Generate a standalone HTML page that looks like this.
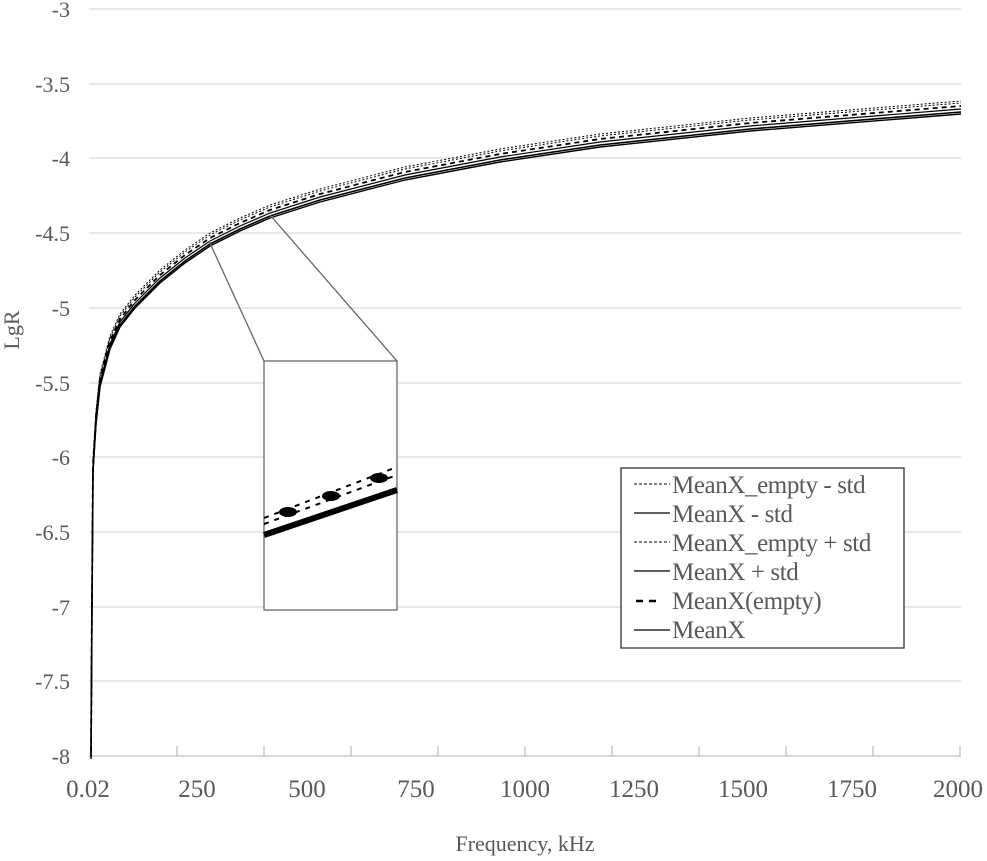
<!DOCTYPE html>
<html><head><meta charset="utf-8"><style>
body{margin:0;background:#fff;}
svg{display:block;font-family:"Liberation Serif",serif;}
</style></head><body>
<svg width="987" height="861" viewBox="0 0 987 861">
<g stroke="#d9d9d9" stroke-width="1.3">
<line x1="89" y1="9" x2="961" y2="9"/><line x1="89" y1="84" x2="961" y2="84"/><line x1="89" y1="158" x2="961" y2="158"/><line x1="89" y1="233" x2="961" y2="233"/><line x1="89" y1="308" x2="961" y2="308"/><line x1="89" y1="383" x2="961" y2="383"/><line x1="89" y1="457" x2="961" y2="457"/><line x1="89" y1="532" x2="961" y2="532"/><line x1="89" y1="607" x2="961" y2="607"/><line x1="89" y1="681" x2="961" y2="681"/>
</g>
<g stroke="#bfbfbf" stroke-width="1.3">
<line x1="89" y1="756" x2="961" y2="756"/>
<line x1="177" y1="746" x2="177" y2="756"/><line x1="264" y1="746" x2="264" y2="756"/><line x1="351" y1="746" x2="351" y2="756"/><line x1="438" y1="746" x2="438" y2="756"/><line x1="525" y1="746" x2="525" y2="756"/><line x1="612" y1="746" x2="612" y2="756"/><line x1="699" y1="746" x2="699" y2="756"/><line x1="786" y1="746" x2="786" y2="756"/><line x1="873" y1="746" x2="873" y2="756"/><line x1="960" y1="746" x2="960" y2="756"/>
</g>
<g fill="#595959" font-size="22" text-anchor="end">
<text x="70" y="17">-3</text><text x="70" y="92">-3.5</text><text x="70" y="166">-4</text><text x="70" y="241">-4.5</text><text x="70" y="316">-5</text><text x="70" y="391">-5.5</text><text x="70" y="465">-6</text><text x="70" y="540">-6.5</text><text x="70" y="615">-7</text><text x="70" y="689">-7.5</text><text x="70" y="764">-8</text>
</g>
<g fill="#595959" font-size="25" text-anchor="middle">
<text x="88" y="797">0.02</text><text x="197" y="797">250</text><text x="307" y="797">500</text><text x="416" y="797">750</text><text x="525" y="797">1000</text><text x="634" y="797">1250</text><text x="743" y="797">1500</text><text x="852" y="797">1750</text><text x="958" y="797">2000</text>
</g>
<text x="525" y="851" font-size="22" fill="#595959" text-anchor="middle">Frequency, kHz</text>
<text transform="translate(19,330) rotate(-90)" font-size="22" fill="#595959" text-anchor="middle">LgR</text>
<defs>
<polyline id="c" fill="none" points="91,757 92,600 93,470 96,422 100,385 110,347 120,325 135,306 160,281 185,261 210,244 240,229 270,216 320,200 405,178 500,160 600,145 750,129 961,112"/>
</defs>
<g fill="none" stroke="#000">
<use href="#c" stroke-width="1.6"/>
<use href="#c" transform="translate(0,2)" stroke-width="1.4"/>
<use href="#c" transform="translate(0,-3)" stroke-width="1.2"/>
<use href="#c" transform="translate(0,-6)" stroke-width="1.8" stroke-dasharray="5,4"/>
<use href="#c" transform="translate(0,-9)" stroke-width="1" stroke-dasharray="2,2"/>
<use href="#c" transform="translate(0,-11)" stroke-width="1" stroke-dasharray="2,2"/>
</g>
<g stroke="#666" stroke-width="1.3" fill="none">
<line x1="209" y1="241" x2="264" y2="361"/><line x1="270" y1="215" x2="397" y2="361"/>
<rect x="264" y="361" width="133" height="249" fill="#fff"/>
</g>
<g stroke="#000" fill="none">
<line x1="264" y1="535" x2="397" y2="490" stroke-width="6"/>
<line x1="264" y1="524" x2="397" y2="475" stroke-width="2" stroke-dasharray="5,6"/>
<line x1="264" y1="518" x2="397" y2="467" stroke-width="2" stroke-dasharray="5,6"/>
</g>
<g fill="#000"><ellipse cx="288" cy="512" rx="9" ry="5"/><ellipse cx="331" cy="496" rx="9" ry="5"/><ellipse cx="379" cy="478" rx="9" ry="5"/></g>
<rect x="621" y="468" width="283" height="180" fill="#fff" stroke="#333" stroke-width="1.3"/>
<g stroke="#000">
<line x1="634" y1="484" x2="670" y2="484" stroke-dasharray="3,2" stroke-width="1"/>
<line x1="634" y1="513" x2="670" y2="513" stroke-width="1.3"/>
<line x1="634" y1="542" x2="670" y2="542" stroke-dasharray="3,2" stroke-width="1"/>
<line x1="634" y1="571" x2="670" y2="571" stroke-width="1.3"/>
<line x1="636" y1="601" x2="662" y2="601" stroke-dasharray="7,6" stroke-width="2.4"/>
<line x1="634" y1="630" x2="670" y2="630" stroke-width="1.3"/>
</g>
<g fill="#595959" font-size="25" letter-spacing="-0.4">
<text x="672" y="493">MeanX_empty - std</text>
<text x="672" y="522">MeanX - std</text>
<text x="672" y="551">MeanX_empty + std</text>
<text x="672" y="580">MeanX + std</text>
<text x="672" y="609">MeanX(empty)</text>
<text x="672" y="638">MeanX</text>
</g>
</svg>
</body></html>
